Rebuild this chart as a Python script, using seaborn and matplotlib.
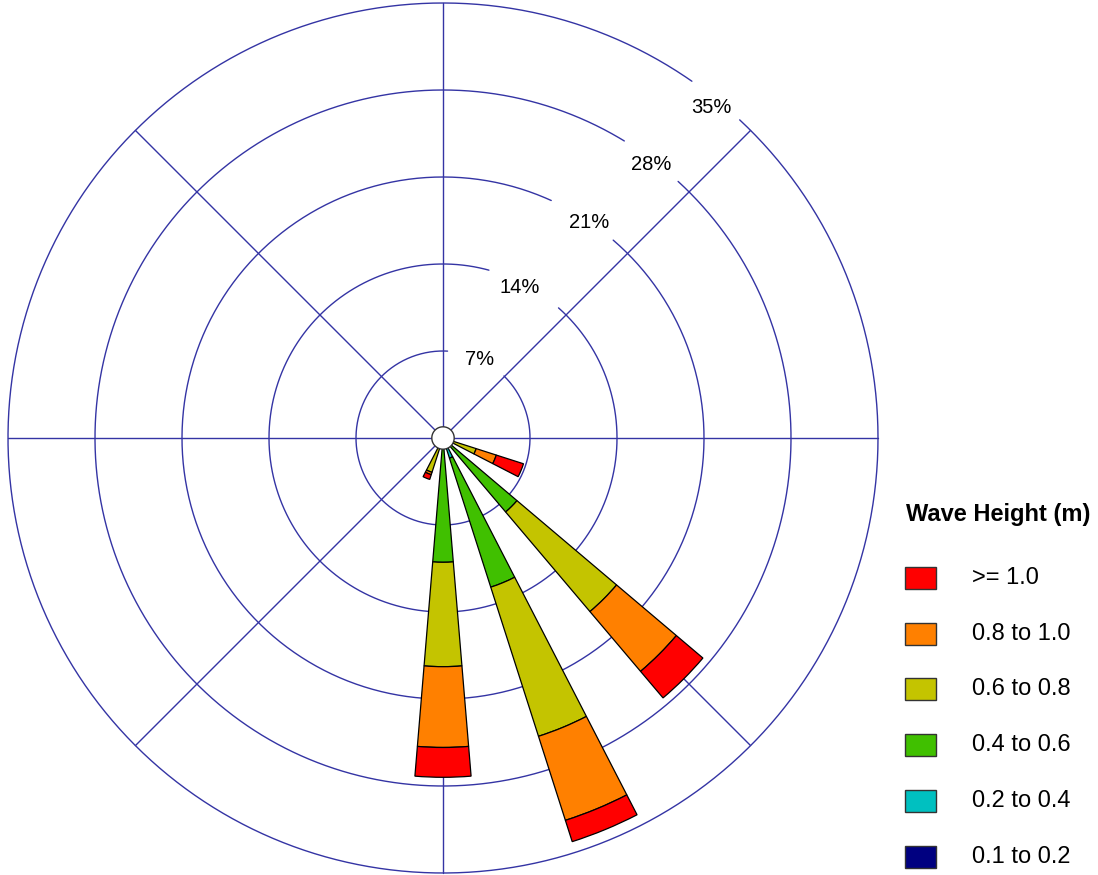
import numpy as np
import matplotlib
matplotlib.use("Agg")
import matplotlib.pyplot as plt
import seaborn as sns
from matplotlib.patches import Rectangle

# ---------------- data ----------------
directions = ["N", "NNE", "NE", "ENE", "E", "ESE", "SE", "SSE",
              "S", "SSW", "SW", "WSW", "W", "WNW", "NW", "NNW"]
direction_deg = [0, 22.5, 45, 67.5, 90, 112.5, 135, 157.5,
                 180, 202.5, 225, 247.5, 270, 292.5, 315, 337.5]

bin_labels = ["0.1 to 0.2", "0.2 to 0.4", "0.4 to 0.6",
              "0.6 to 0.8", "0.8 to 1.0", ">= 1.0"]
bin_colors = ["#000080", "#00C0C0", "#40C000", "#C4C400", "#FF8000", "#FF0000"]

# frequency (%) per direction, N..NNW
freq_01_02 = [0, 0, 0, 0, 0, 0.0, 0.0, 0.0, 0.0, 0.0, 0, 0, 0, 0, 0, 0]
freq_02_04 = [0, 0, 0, 0, 0, 0.0, 0.0, 1.7, 0.3, 0.0, 0, 0, 0, 0, 0, 0]
freq_04_06 = [0, 0, 0, 0, 0, 0.5, 7.8, 10.9, 9.7, 0.5, 0, 0, 0, 0, 0, 0]
freq_06_08 = [0, 0, 0, 0, 0, 2.3, 10.5, 12.6, 8.4, 2.4, 0, 0, 0, 0, 0, 0]
freq_08_10 = [0, 0, 0, 0, 0, 1.7, 6.3, 7.1, 6.5, 0.2, 0, 0, 0, 0, 0, 0]
freq_ge_10 = [0, 0, 0, 0, 0, 2.3, 2.8, 1.8, 2.4, 0.4, 0, 0, 0, 0, 0, 0]
series = [freq_01_02, freq_02_04, freq_04_06, freq_06_08, freq_08_10, freq_ge_10]

calm_radius = 0.9
ring_levels = [7, 14, 21, 28, 35]
ring_labels = ["7%", "14%", "21%", "28%", "35%"]
legend_title = "Wave Height (m)"

# ---------------- style ----------------
sns.set_theme(style="white")
plt.rcParams["font.family"] = ["Liberation Sans", "DejaVu Sans"]
palette = sns.color_palette(bin_colors)
grid_color = "#3434A4"

fig = plt.figure(figsize=(10.98, 8.75), dpi=100)
fig.patch.set_facecolor("white")
ax = fig.add_axes([8 / 1098, 2 / 875, 870 / 1098, 870 / 875], projection="polar")
ax.set_theta_zero_location("N")
ax.set_theta_direction(-1)
ax.set_ylim(0, 35)
ax.grid(False)
ax.set_xticks([])
ax.set_yticks([])
ax.spines["polar"].set_visible(False)
ax.set_facecolor("none")

# spokes
for a in range(0, 360, 45):
    ax.plot([np.deg2rad(a)] * 2, [0, 35], color=grid_color, lw=1.0, zorder=1,
            clip_on=False)

# rings with gaps where labels sit
ring_gaps = [(3.0, 44.5), (15.3, 41.6), (24.5, 40.7), (31.4, 42.5), (34.9, 43.0)]
for lvl, (g0, g1) in zip(ring_levels, ring_gaps):
    t = np.deg2rad(np.linspace(g1, g0 + 360, 720))
    ax.plot(t, np.full_like(t, lvl), color=grid_color, lw=1.0, zorder=1,
            clip_on=False)

# ring labels
label_pos = [(25.4, 6.95), (27.0, 13.6), (34.1, 20.95), (37.2, 27.65), (39.1, 34.3)]
for lab, (th, rr) in zip(ring_labels, label_pos):
    ax.text(np.deg2rad(th), rr, lab, ha="center", va="center",
            fontsize=14.5, color="black", zorder=6)

# stacked bars
theta = np.deg2rad(direction_deg)
width = np.deg2rad(9.5)
bottom = np.zeros(len(directions))
for vals, col in zip(series, palette):
    vals = np.asarray(vals, dtype=float)
    mask = vals > 0
    ax.bar(theta[mask], vals[mask], width=width, bottom=bottom[mask],
           color=col, edgecolor="black", linewidth=0.9, zorder=3)
    bottom += vals

# calm circle
tc = np.linspace(0, 2 * np.pi, 200)
ax.fill(tc, np.full_like(tc, calm_radius), facecolor="white",
        edgecolor="#333333", linewidth=1.0, zorder=5)

# legend
fig.text(906 / 1098, 1 - 515 / 875, legend_title, fontsize=17,
         fontweight="bold", ha="left", va="center", color="black")
rows_y = [578, 634, 689, 745, 801, 857]
for i, (lab, col) in enumerate(zip(bin_labels[::-1], palette[::-1])):
    y = rows_y[i]
    fig.add_artist(Rectangle((905 / 1098, 1 - (y + 11) / 875), 31 / 1098, 22 / 875,
                             transform=fig.transFigure, facecolor=col,
                             edgecolor="#333333", linewidth=1.0))
    fig.text(972 / 1098, 1 - y / 875, lab, fontsize=17, ha="left",
             va="center", color="black")

fig.savefig("out.png", dpi=100, facecolor="white")
